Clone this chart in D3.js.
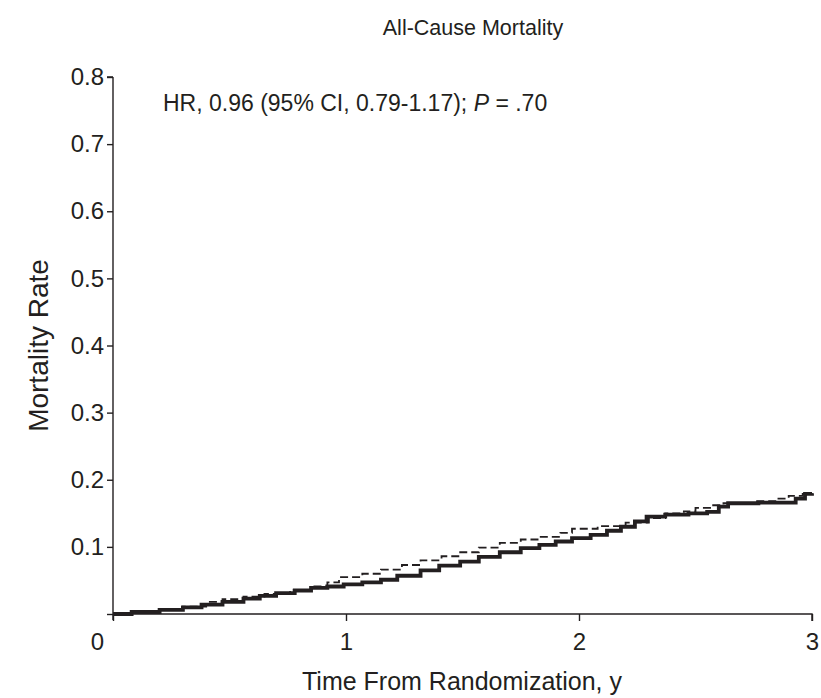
<!DOCTYPE html>
<html>
<head>
<meta charset="utf-8">
<script src="https://cdnjs.cloudflare.com/ajax/libs/d3/7.8.5/d3.min.js"></script>
<style>
  body { margin: 0; background: #fff; }
  svg text { font-family: "Liberation Sans", Arial, Helvetica, sans-serif; fill: #231f20; }
</style>
</head>
<body>
<svg width="821" height="698"></svg>
<script>
// values
const xTicks = [0, 1, 2, 3];
const yTicks = [0.1, 0.2, 0.3, 0.4, 0.5, 0.6, 0.7, 0.8];

// solid curve (thick)
const solidTime = [0, 0.08, 0.2, 0.3, 0.38, 0.47, 0.56, 0.63, 0.7, 0.78, 0.85, 0.92, 0.99, 1.07, 1.15, 1.22, 1.32, 1.4, 1.49, 1.57, 1.66, 1.75, 1.83, 1.9, 1.97, 2.05, 2.12, 2.18, 2.24, 2.29, 2.37, 2.47, 2.55, 2.6, 2.64, 2.77, 2.93, 2.97, 3.0];
const solidRate = [0, 0.003, 0.006, 0.010, 0.014, 0.018, 0.023, 0.027, 0.031, 0.035, 0.039, 0.041, 0.044, 0.047, 0.051, 0.057, 0.065, 0.072, 0.078, 0.085, 0.092, 0.098, 0.103, 0.108, 0.113, 0.118, 0.124, 0.130, 0.138, 0.145, 0.148, 0.150, 0.152, 0.160, 0.165, 0.166, 0.172, 0.179, 0.180];

// dashed curve (thin)
const dashTime = [0, 0.1, 0.2, 0.3, 0.4, 0.47, 0.56, 0.65, 0.76, 0.85, 0.92, 0.97, 1.07, 1.15, 1.24, 1.32, 1.41, 1.49, 1.57, 1.66, 1.75, 1.83, 1.92, 1.97, 2.08, 2.2, 2.3, 2.37, 2.45, 2.5, 2.57, 2.62, 2.75, 2.85, 2.9, 2.96, 3.0];
const dashRate = [0, 0.003, 0.007, 0.011, 0.018, 0.022, 0.026, 0.030, 0.036, 0.041, 0.047, 0.055, 0.060, 0.066, 0.073, 0.080, 0.086, 0.092, 0.099, 0.106, 0.111, 0.115, 0.121, 0.127, 0.131, 0.136, 0.143, 0.150, 0.153, 0.158, 0.162, 0.165, 0.168, 0.172, 0.176, 0.179, 0.180];

const svg = d3.select('svg');

const x = d3.scaleLinear().domain([0, 3]).range([113, 812]);
const y = d3.scaleLinear().domain([0, 0.8]).range([614, 77]);

// title
svg.append('text')
  .attr('x', 473).attr('y', 35)
  .attr('text-anchor', 'middle')
  .style('font-size', '21.5px')
  .text('All-Cause Mortality');

// y axis
const yAxis = svg.append('g')
  .attr('transform', `translate(${x(0)},0)`)
  .call(d3.axisLeft(y).tickValues([0].concat(yTicks)).tickSize(6).tickPadding(3)
    .tickFormat(d => d === 0 ? '' : d3.format('.1f')(d)));
yAxis.select('.domain').attr('d', `M0,${y(0.8)}H-6M0,${y(0.8)}V${y(0) + 6}`);
yAxis.selectAll('text').style('font-size', '24px');
yAxis.selectAll('line, path').attr('stroke', '#231f20').attr('stroke-width', 1.4);

// x axis
const xAxis = svg.append('g')
  .attr('transform', `translate(0,${y(0)})`)
  .call(d3.axisBottom(x).tickValues(xTicks).tickSize(7).tickPadding(12).tickFormat(d3.format('d')));
xAxis.select('.domain').attr('d', `M${x(0)},0H${x(3)}V7`);
xAxis.selectAll('text').style('font-size', '24px')
  .attr('dx', d => d === 0 ? -16 : 0);
xAxis.selectAll('line, path').attr('stroke', '#231f20').attr('stroke-width', 1.4);

// axis titles
svg.append('text')
  .attr('transform', `translate(48,${(y(0) + y(0.8)) / 2}) rotate(-90)`)
  .attr('text-anchor', 'middle')
  .style('font-size', '28px')
  .text('Mortality Rate');

svg.append('text')
  .attr('x', 462).attr('y', 690)
  .attr('text-anchor', 'middle')
  .style('font-size', '25px')
  .text('Time From Randomization, y');

// annotation
const note = svg.append('text')
  .attr('x', 163).attr('y', 111)
  .style('font-size', '23px');
note.append('tspan').text('HR, 0.96 (95% CI, 0.79-1.17); ');
note.append('tspan').style('font-style', 'italic').text('P');
note.append('tspan').text(' = .70');

// curves
const line = d3.line()
  .x(d => x(d[0]))
  .y(d => y(d[1]))
  .curve(d3.curveStepAfter);

svg.append('path')
  .datum(d3.zip(dashTime, dashRate))
  .attr('d', line)
  .attr('fill', 'none')
  .attr('stroke', '#231f20')
  .attr('stroke-width', 1.8)
  .attr('stroke-dasharray', '8,4');

svg.append('path')
  .datum(d3.zip(solidTime, solidRate))
  .attr('d', line)
  .attr('fill', 'none')
  .attr('stroke', '#231f20')
  .attr('stroke-width', 3.8);
</script>
</body>
</html>
